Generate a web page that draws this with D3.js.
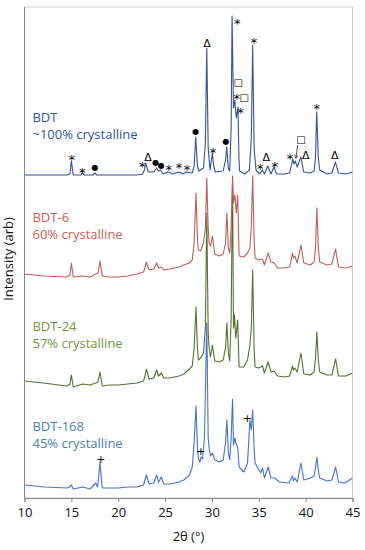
<!DOCTYPE html>
<meta charset="utf-8">
<script src="https://d3js.org/d3.v7.min.js"></script>
<style>
  body { margin: 0; background: #fff; }
  text { font-family: "Open Sans", "Liberation Sans", sans-serif; }
</style>
<div id="chart"></div>
<script>

// XRD patterns, [2theta (deg), intensity (arb)]
var bdt = [[10,13],[12,13],[14.5,13],[14.85,14],[15.0,27],[15.2,13],[16.0,13],[16.2,15],[16.4,13],[17.3,13],[17.5,15],[17.7,13],
  [19,13],[20,13],[21,13],[22,13],[22.6,14],[22.8,18],[22.93,25],[23.2,16],[23.8,16],[24.1,20],[24.3,17],[24.5,18],[24.8,14],
  [25.35,16],[25.8,14],[26.5,16],[26.9,14],[27.3,16],[27.9,15],[28.1,22],[28.27,51],[28.45,22],[28.6,17],[29.1,20],[29.3,45],[29.45,140],
  [29.6,40],[29.8,18],[29.95,28],[30.05,35],[30.2,22],[30.35,16],[31.2,17],[31.45,28],[31.58,41],[31.75,20],[31.9,17],[32.05,60],[32.15,172],
  [32.3,80],[32.43,88],[32.6,70],[32.78,81],[32.88,30],[32.95,17],[33.5,14],[34.0,18],[34.2,50],[34.35,143],[34.5,40],[34.7,18],
  [35.1,14],[35.38,18],[35.6,14],[35.95,22],[36.3,14],[36.62,21],[36.9,14],[37.8,14],[38.3,15],[38.62,29],[38.75,24],[38.9,27],
  [39.1,21],[39.5,31],[39.8,16],[40.5,15],[40.9,17],[41.05,30],[41.18,76],[41.35,30],[41.5,18],[42.3,14],[42.8,15],[43.17,26],
  [43.5,15],[44.3,14],[45,16]];

var bdt6 = [[10,24],[12,22],[14.5,21],[14.85,23],[15.0,35],[15.2,21],[16.2,22],[17,21],[17.6,24],[17.85,25],[18.05,37],[18.3,22],
  [19,21],[20,21],[21,22],[22,24],[22.7,26],[22.85,30],[23.0,36],[23.3,28],[23.8,29],[24.1,35],[24.3,30],[24.6,31],[24.85,28],
  [25.5,29],[26.5,31],[27.0,33],[27.6,35],[27.9,38],[28.1,55],[28.3,105],[28.45,60],[28.55,48],[28.8,47],[29.1,55],[29.3,70],[29.45,120],
  [29.6,70],[29.7,55],[29.85,52],[30.05,62],[30.3,44],[30.8,42],[31.2,44],[31.45,55],[31.6,85],[31.75,50],[31.9,45],[32.05,70],[32.2,120],
  [32.3,95],[32.45,103],[32.6,85],[32.75,103],[32.85,60],[32.9,42],[33.4,41],[33.8,45],[34.05,50],[34.2,70],[34.35,122],[34.5,60],
  [34.6,40],[35.0,38],[35.4,39],[35.6,33],[36.0,45],[36.3,36],[36.65,35],[37.0,30],[37.8,30],[38.3,31],[38.6,45],[38.7,40],
  [38.85,42],[39.1,35],[39.5,53],[39.8,35],[40.5,33],[40.9,36],[41.05,50],[41.2,90],[41.35,50],[41.5,36],[42.3,33],[42.8,34],
  [43.2,49],[43.5,31],[44.3,30],[45,32]];

var bdt24 = [[10,17],[12,15],[14.5,12],[14.85,14],[15.0,23],[15.2,11],[16.2,14],[17,13],[17.6,15],[17.85,16],[18.05,26],[18.3,12],
  [19,13],[20,13],[21,14],[22,15],[22.7,17],[22.85,22],[23.0,29],[23.3,19],[23.8,20],[24.1,28],[24.3,22],[24.6,25],[24.85,20],
  [25.5,20],[26.5,22],[27.0,24],[27.6,29],[27.9,32],[28.1,50],[28.3,91],[28.45,50],[28.55,38],[28.8,40],[29.1,45],[29.3,70],[29.45,185],
  [29.6,65],[29.7,50],[29.85,41],[30.05,53],[30.3,37],[30.8,36],[31.2,38],[31.45,50],[31.6,75],[31.75,45],[31.9,37],[32.05,80],[32.2,222],
  [32.3,70],[32.4,83],[32.55,60],[32.75,78],[32.85,45],[32.9,31],[33.4,31],[33.8,38],[34.05,53],[34.2,70],[34.35,128],[34.5,50],
  [34.6,31],[35.0,30],[35.4,32],[35.6,25],[36.0,36],[36.3,26],[36.65,27],[37.0,22],[37.8,21],[38.3,22],[38.6,32],[38.7,28],
  [38.85,30],[39.1,26],[39.5,45],[39.8,24],[40.5,23],[40.9,26],[41.05,40],[41.2,66],[41.35,38],[41.5,26],[42.3,23],[42.8,23],
  [43.2,39],[43.5,22],[44.3,22],[45,25]];

var bdt168 = [[10,13],[12.2,11],[14.5,10],[14.8,11],[15.0,13],[15.2,9],[16.2,11],[17,9],[17.6,15],[17.8,11],[17.95,25],[18.05,36],[18.2,20],[18.3,10],
  [19,10],[20,10],[21,11],[22,11],[22.7,13],[22.85,18],[23.0,23],[23.3,14],[23.8,15],[24.1,23],[24.3,16],[24.6,21],[24.85,14],
  [25.5,14],[26.5,16],[27.0,18],[27.6,23],[27.9,31],[28.1,55],[28.3,92],[28.45,50],[28.55,40],[28.7,36],[28.85,41],[29.0,39],[29.2,60],
  [29.45,175],[29.6,60],[29.7,50],[29.85,42],[30.05,45],[30.3,38],[30.8,36],[31.2,38],[31.45,55],[31.6,78],[31.75,45],[31.9,38],[32.05,60],
  [32.2,99],[32.3,53],[32.45,60],[32.55,55],[32.75,51],[32.9,31],[33.4,26],[33.8,35],[34.05,78],[34.2,68],[34.35,88],[34.5,50],
  [34.6,35],[34.9,30],[35.2,25],[35.4,30],[35.6,20],[36.0,31],[36.3,20],[36.7,20],[37.2,16],[38.2,15],[38.6,22],[38.7,17],
  [38.85,20],[39.1,16],[39.5,35],[39.8,18],[40.5,20],[40.9,22],[41.05,30],[41.2,41],[41.35,28],[41.5,20],[42.3,17],[42.8,18],
  [43.2,31],[43.5,16],[44.2,15],[45,20]];

var series = ["BDT", "BDT-6", "BDT-24", "BDT-168"];
var crystallinity = ["~100% crystalline", "60% crystalline", "57% crystalline", "45% crystalline"];
var offsets = [310, 200, 100, 0];
var xTicks = [10, 15, 20, 25, 30, 35, 40, 45];

// phase markers above the BDT pattern: 2theta, intensity, symbol
var bdtMarks = [
  {t:15.04,v:33,s:"*"},{t:16.17,v:20,s:"*"},{t:17.52,v:21,s:"●"},{t:22.57,v:26,s:"*"},{t:23.18,v:31,s:"Δ"},
  {t:24.0,v:26,s:"●"},{t:24.6,v:23,s:"●"},{t:25.39,v:23,s:"*"},{t:26.49,v:25,s:"*"},{t:27.34,v:23,s:"*"},
  {t:28.27,v:57,s:"●"},{t:29.48,v:145,s:"Δ"},{t:30.12,v:40,s:"*"},{t:31.5,v:47,s:"●"},{t:32.71,v:169,s:"*"},
  {t:32.8,v:106,s:"□"},{t:32.64,v:94,s:"*"},{t:33.45,v:91,s:"□"},{t:33.05,v:80,s:"*"},{t:34.49,v:150,s:"*"},
  {t:35.16,v:24,s:"*"},{t:35.8,v:31,s:"Δ"},{t:36.7,v:26,s:"*"},{t:38.33,v:34,s:"*"},{t:39.5,v:49,s:"□"},
  {t:40.0,v:33,s:"Δ"},{t:41.18,v:84,s:"*"},{t:43.1,v:33,s:"Δ"}
];
var bdt168Marks = [{t:18.16,v:39,s:"+"},{t:28.83,v:47,s:"+"},{t:33.78,v:80,s:"+"}];

var lineColors = ["#35519a", "#b95f59", "#566f2e", "#4672c8"];
var labelColors = ["#2f5597", "#c0625c", "#77933c", "#4a7ebb"];

var margin = {top: 7, right: 12.5, bottom: 52, left: 24.5},
    width = 365 - margin.left - margin.right,
    height = 550 - margin.top - margin.bottom;

var svg = d3.select("#chart")
  .append("svg")
    .attr("width", 365)
    .attr("height", 550)
  .append("g")
    .attr("transform", "translate(" + margin.left + "," + margin.top + ")");

var x = d3.scaleLinear().domain([10, 45]).range([0, width]);
var y = d3.scaleLinear().domain([0, 491]).range([height, 0]);

svg.append("clipPath").attr("id", "plotclip")
  .append("rect").attr("width", width).attr("height", height);

// plot frame
svg.append("rect")
  .attr("width", width).attr("height", height)
  .attr("fill", "none").attr("stroke", "#d0d0d0");

// x axis
var xAxis = svg.append("g")
  .attr("transform", "translate(0," + height + ")")
  .call(d3.axisBottom(x).tickValues(xTicks).tickSize(4).tickPadding(6));
xAxis.select(".domain").attr("stroke", "#868686");
xAxis.selectAll(".tick line").attr("stroke", "#868686");
xAxis.selectAll(".tick text").attr("font-size", 13).attr("fill", "#111")
  .style("font-family", "'Open Sans', sans-serif");

svg.append("line")
  .attr("x1", 0).attr("x2", 0).attr("y1", 0).attr("y2", height)
  .attr("stroke", "#868686");

// axis titles
svg.append("text")
  .attr("x", width / 2).attr("y", height + 43)
  .attr("text-anchor", "middle").attr("font-size", 13).attr("fill", "#111")
  .text("2θ (°)");
svg.append("text")
  .attr("transform", "translate(" + (-12) + "," + 252 + ") rotate(-90)")
  .attr("text-anchor", "middle").attr("font-size", 13).attr("fill", "#111")
  .text("Intensity (arb)");

// patterns, stacked with offsets; lowest drawn first
var patterns = [bdt, bdt6, bdt24, bdt168];
var line = d3.line()
  .x(function(d) { return x(d[0]); })
  .y(function(d) { return y(d[1] + d.off); });

var plot = svg.append("g").attr("clip-path", "url(#plotclip)");
[3, 2, 1, 0].forEach(function(i) {
  var pts = patterns[i].map(function(p) { var q = [p[0], p[1]]; q.off = offsets[i]; return q; });
  plot.append("path")
    .datum(pts)
    .attr("fill", "none")
    .attr("stroke", lineColors[i])
    .attr("stroke-width", 1.1)
    .attr("stroke-linejoin", "round")
    .attr("d", line);
});

// sample labels
var labelLevel = [66, 76, 67, 67];
series.forEach(function(s, i) {
  var t = svg.append("text")
    .attr("fill", labelColors[i]).attr("font-size", 13);
  t.append("tspan").attr("x", x(10.85)).attr("y", y(offsets[i] + labelLevel[i])).text(s);
  t.append("tspan").attr("x", x(10.85)).attr("y", y(offsets[i] + labelLevel[i] - 17)).text(crystallinity[i]);
});

// phase markers
function drawMarks(marks, off) {
  svg.selectAll(null)
    .data(marks)
    .enter().append("text")
      .attr("x", function(d) { return x(d.t); })
      .attr("y", function(d) { return y(d.v + off); })
      .attr("text-anchor", "middle")
      .attr("dy", function(d) { return d.s == "*" ? "0.72em" : "0.36em"; })
      .attr("font-size", function(d) { return d.s == "●" ? 8 : (d.s == "*" ? 13 : (d.s == "□" ? 10 : 11)); })
      .style("font-family", "'DejaVu Sans', sans-serif")
      .attr("fill", "#000")
      .text(function(d) { return d.s; });
}
drawMarks(bdtMarks, offsets[0]);
drawMarks(bdt168Marks, offsets[3]);

// arrow from the square marker down to the 38.9 peak
svg.append("defs").append("marker")
  .attr("id", "arrowhead").attr("viewBox", "0 0 6 6").attr("refX", 5).attr("refY", 3)
  .attr("markerWidth", 5).attr("markerHeight", 5).attr("orient", "auto")
  .append("path").attr("d", "M0,0 L6,3 L0,6").attr("fill", "none").attr("stroke", "#222");
svg.append("line")
  .attr("x1", x(39.15)).attr("y1", y(offsets[0] + 43))
  .attr("x2", x(38.97)).attr("y2", y(offsets[0] + 30))
  .attr("stroke", "#222").attr("stroke-width", 0.8)
  .attr("marker-end", "url(#arrowhead)");

</script>
